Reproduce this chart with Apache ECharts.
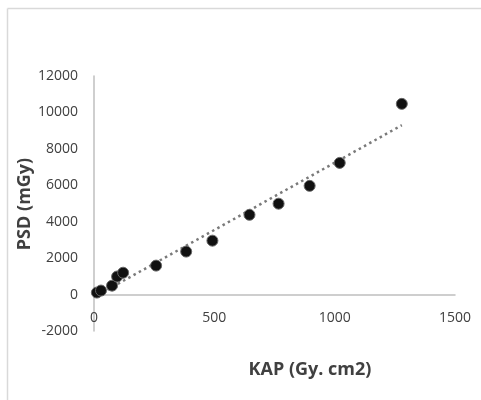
<!DOCTYPE html>
<html>
<head>
<meta charset="utf-8">
<script src="https://cdn.jsdelivr.net/npm/echarts@6/dist/echarts.min.js"></script>
<style>html,body{margin:0;padding:0;background:#fff;}#c{width:481px;height:400px;}</style>
</head>
<body>
<div id="c"></div>
<script>
var kap = [12, 29, 75, 96, 121, 258, 383, 492, 646, 767, 896, 1021, 1279];
var psd = [110, 220, 490, 990, 1200, 1590, 2360, 2960, 4380, 4990, 5970, 7230, 10470];
var xTitle = 'KAP (Gy. cm2)';
var yTitle = 'PSD (mGy)';

var points = kap.map(function (x, i) { return [x, psd[i]]; });
// linear least-squares trendline through the data
var n = kap.length, sx = 0, sy = 0, sxx = 0, sxy = 0;
for (var i = 0; i < n; i++) { sx += kap[i]; sy += psd[i]; sxx += kap[i] * kap[i]; sxy += kap[i] * psd[i]; }
var slope = (n * sxy - sx * sy) / (n * sxx - sx * sx);
var icpt = (sy - slope * sx) / n;
var xMin = Math.min.apply(null, kap), xMax = Math.max.apply(null, kap);
var trend = [[xMin, icpt + slope * xMin], [xMax, icpt + slope * xMax]];

var chart = echarts.init(document.getElementById('c'), null, { renderer: 'canvas' });
var font = '"Open Sans", "Liberation Sans", sans-serif';
function plain(v) { return String(v); }
chart.setOption({
  animation: false,
  backgroundColor: '#fff',
  grid: { left: 94, right: 26, top: 76, bottom: 69, containLabel: false },
  xAxis: {
    type: 'value', min: 0, max: 1500, interval: 500,
    offset: -36.4,
    axisLine: { onZero: false, lineStyle: { color: '#bfbfbf', width: 1.5 } },
    axisTick: { show: false },
    splitLine: { show: false },
    axisLabel: { color: '#404040', fontSize: 14, fontFamily: font, margin: 16, formatter: plain }
  },
  yAxis: {
    type: 'value', min: -2000, max: 12000, interval: 2000,
    axisLine: { show: true, onZero: false, lineStyle: { color: '#bfbfbf', width: 1.5 } },
    axisTick: { show: false },
    splitLine: { show: false },
    axisLabel: { color: '#404040', fontSize: 14, fontFamily: font, margin: 16, formatter: plain }
  },
  series: [
    {
      type: 'line', data: trend, symbol: 'none', silent: true,
      lineStyle: { color: '#7a7a7a', width: 2.5, type: [2.5, 3.5] }, z: 2
    },
    {
      type: 'scatter', data: points, symbol: 'circle', symbolSize: 11,
      itemStyle: { color: '#111111', borderColor: '#666666', borderWidth: 1, opacity: 1 }, z: 3
    }
  ],
  graphic: [
    { type: 'line', shape: { x1: 7.5, y1: 8.5, x2: 481, y2: 8.5 }, style: { stroke: '#d9d9d9', lineWidth: 1.5 } },
    { type: 'line', shape: { x1: 7.5, y1: 8.5, x2: 7.5, y2: 400 }, style: { stroke: '#d9d9d9', lineWidth: 1.5 } },
    { type: 'text', x: 310, y: 370, style: { text: xTitle, fontSize: 18, fontWeight: 'bold', fontFamily: font, fill: '#404040', textAlign: 'center', textVerticalAlign: 'middle' } },
    { type: 'text', x: 25, y: 204, rotation: Math.PI / 2, style: { text: yTitle, fontSize: 18, fontWeight: 'bold', fontFamily: font, fill: '#404040', textAlign: 'center', textVerticalAlign: 'middle' } }
  ]
});
</script>
</body>
</html>
